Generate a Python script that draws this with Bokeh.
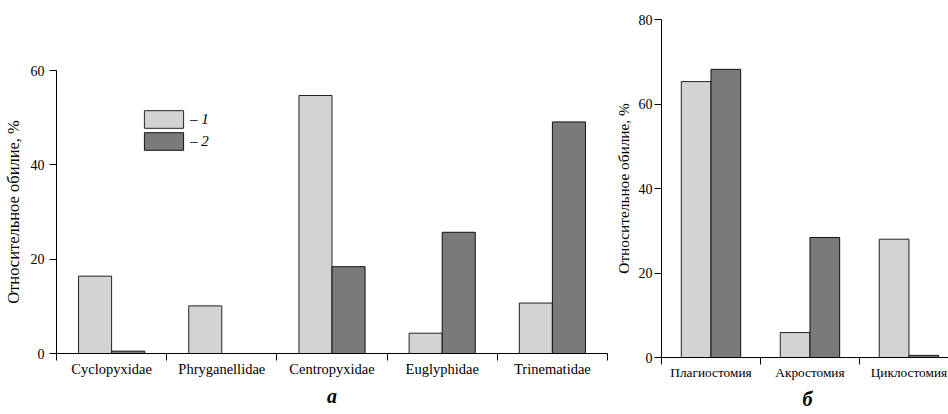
from bokeh.plotting import figure
from bokeh.layouts import row, column
from bokeh.models import FixedTicker, Range1d, Legend, LegendItem, Title
from bokeh.embed import file_html
from bokeh.resources import INLINE

# ---- data ----
families = ["Cyclopyxidae", "Phryganellidae", "Centropyxidae", "Euglyphidae", "Trinematidae"]
fam_s1 = [16.4, 10.1, 54.7, 4.3, 10.7]
fam_s2 = [0.5, 0.0, 18.4, 25.7, 49.1]

mouth_types = ["Плагиостомия", "Акростомия", "Циклостомия"]
mouth_s1 = [65.3, 5.9, 28.0]
mouth_s2 = [68.2, 28.4, 0.5]

left_yticks = [0, 20, 40, 60]
right_yticks = [0, 20, 40, 60, 80]
series_labels = ["– 1", "– 2"]
ylabel = "Относительное обилие, %"
panel_letters = ["а", "б"]

LIGHT = "#d3d3d3"
DARK = "#7a7a7a"
FONT = "Liberation Serif"
BW = 0.3


def make_panel(cats, s1, s2, yticks, ymax, xmax, fw, fh, bl, br, bt, bb,
               tick_fs, cat_fs, lab_fs, lab_standoff, tick_standoff, letter, letter_standoff):
    p = figure(frame_width=fw, frame_height=fh, output_backend="svg",
               toolbar_location=None, x_range=Range1d(0, xmax), y_range=Range1d(0, ymax),
               min_border_left=bl, min_border_right=br, min_border_top=bt,
               min_border_bottom=bb)
    p.outline_line_color = None
    p.xgrid.visible = False
    p.ygrid.visible = False
    p.background_fill_color = "white"
    p.border_fill_color = "white"
    n = len(cats)
    xs1 = [i + 0.5 - BW / 2 for i in range(n)]
    xs2 = [i + 0.5 + BW / 2 for i in range(n)]
    r1 = p.vbar(x=xs1, top=s1, width=BW, fill_color=LIGHT, line_color="#222222", line_width=1)
    r2 = p.vbar(x=xs2, top=s2, width=BW, fill_color=DARK, line_color="#111111", line_width=1)

    xa = p.xaxis[0]
    centers = [i + 0.5 for i in range(n)]
    xa.ticker = FixedTicker(ticks=centers, minor_ticks=list(range(n + 1)))
    xa.major_label_overrides = {c: name for c, name in zip(centers, cats)}
    xa.major_tick_line_color = None
    xa.major_tick_out = 0
    xa.major_tick_in = 0
    xa.minor_tick_out = 7
    xa.minor_tick_in = 0
    xa.minor_tick_line_color = "black"
    xa.axis_line_color = "black"
    xa.major_label_text_font = FONT
    xa.major_label_text_font_size = cat_fs
    xa.major_label_text_color = "black"
    xa.major_label_standoff = 0

    ya = p.yaxis[0]
    ya.ticker = FixedTicker(ticks=yticks)
    ya.minor_tick_line_color = None
    ya.major_tick_out = 7
    ya.major_tick_in = 0
    ya.major_tick_line_color = "black"
    ya.axis_line_color = "black"
    ya.major_label_text_font = FONT
    ya.major_label_text_font_size = tick_fs
    ya.major_label_text_color = "black"
    ya.major_label_standoff = tick_standoff
    ya.axis_label = ylabel
    ya.axis_label_text_font = FONT
    ya.axis_label_text_font_size = lab_fs
    ya.axis_label_text_font_style = "normal"
    ya.axis_label_text_color = "black"
    ya.axis_label_standoff = lab_standoff

    t = Title(text=letter, align="center", text_font=FONT, text_font_style="bold italic",
              text_font_size="20px", text_color="black", standoff=letter_standoff)
    p.add_layout(t, "below")
    return p, r1, r2


p1, a1, a2 = make_panel(families, fam_s1, fam_s2, left_yticks, 60, 5, 551, 283, 55, 4, 70, 61,
                        "14px", "14.5px", "16.5px", 5, 5, panel_letters[0], 7)
p2, b1, b2 = make_panel(mouth_types, mouth_s1, mouth_s2, right_yticks, 80, 2.95, 292, 338, 45, 1, 19, 57,
                        "14px", "13.3px", "15.3px", 4, 2, panel_letters[1], 7)

legend = Legend(items=[LegendItem(label=series_labels[0], renderers=[a1]),
                       LegendItem(label=series_labels[1], renderers=[a2])],
                location=(83, 201), orientation="vertical")
legend.padding = 0
legend.margin = 0
legend.spacing = 0
legend.glyph_width = 49
legend.glyph_height = 22
legend.label_height = 22
legend.label_standoff = 2
legend.border_line_color = None
legend.background_fill_alpha = 0
legend.label_text_font = FONT
legend.label_text_font_style = "italic"
legend.label_text_font_size = "15px"
legend.label_text_color = "black"
p1.add_layout(legend)

layout = row(column(p1), column(p2), spacing=0)
open("out.html", "w").write(file_html(layout, INLINE))
